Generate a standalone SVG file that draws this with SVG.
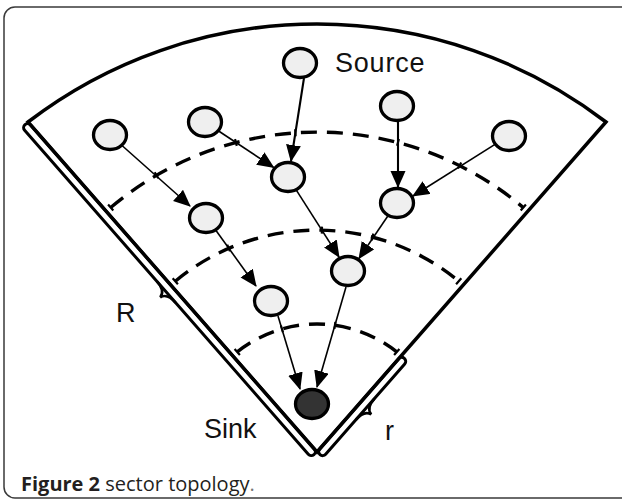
<svg xmlns="http://www.w3.org/2000/svg" width="622" height="501" viewBox="0 0 622 501">
<style>
.node{fill:#efefef;stroke:#000;stroke-width:3.3}
.sink{fill:#333;stroke:#000;stroke-width:3.3}
.edge{stroke:#000;stroke-width:1.6;fill:none;marker-end:url(#ah)}
.thick{stroke-width:2.1}
.arc{stroke:#000;stroke-width:3.4;fill:none;stroke-dasharray:16 10}
.tick{stroke:#000;stroke-width:2.2;fill:none}
.lbl{font-family:"Liberation Sans",Arial,Helvetica,sans-serif;font-size:27px;fill:#111}
.cap{font-family:"Open Sans","Noto Sans",sans-serif;font-size:20px;fill:#231f20}
</style>
<defs>
<marker id="ah" markerUnits="userSpaceOnUse" markerWidth="19" markerHeight="16" refX="16" refY="7.5" orient="auto">
<path d="M0,0 L17,7.5 L0,15 z" fill="#000"/>
</marker>
</defs>
<rect id="frame" x="4" y="7" width="640" height="491" rx="11" fill="#fff" stroke="#3a3a3a" stroke-width="1.5"/>
<g id="sector">
<path d="M28 122 A475 475 0 0 1 606 122 L317 452 Z" fill="none" stroke="#000" stroke-width="3.5" stroke-linejoin="miter"/>
<g transform="translate(28 122) rotate(48.79)">
<rect x="0" y="0" width="438.6" height="8" rx="4" fill="none" stroke="#000" stroke-width="3"/>
<path d="M205 8 C212 8 218 10 219 16 C220 10 226 8 233 8" fill="none" stroke="#000" stroke-width="2.6"/>
</g>
<g transform="translate(317 452) rotate(-48.79)">
<rect x="0" y="0" width="128" height="8" rx="4" fill="none" stroke="#000" stroke-width="3"/>
<path d="M50 8 C57 8 63 10 64 16 C65 10 71 8 78 8" fill="none" stroke="#000" stroke-width="2.6"/>
</g>
</g>
<g id="rings">
<path class="arc" d="M110.7 207.5 A320 320 0 0 1 523.3 207.5"/>
<path class="arc" d="M175.3 281.2 A222 222 0 0 1 458.7 281.2"/>
<path class="arc" d="M237.25 351.9 A128 128 0 0 1 396.75 351.9"/>
<path class="tick" d="M113.3 210.5 L108.1 204.5 M520.7 210.5 L525.9 204.5 M177.9 284.2 L172.7 278.2 M456.1 284.2 L461.3 278.2 M239.9 354.9 L234.6 348.9 M394.1 354.9 L399.4 348.9"/>
<path class="tick" d="M158.3 178.2 L154.7 172.2 M236.8 145.9 L235 139.1 M295.6 136.2 L295.2 129.2 M397.1 145.8 L398.9 139 M458 168.6 L461.2 162.4 M230 251.2 L227.2 244.8 M321.8 233.6 L322 226.6 M371.6 240.4 L373.4 233.6 M282.9 332.3 L280.9 325.5 M334.4 328.8 L335.4 321.8"/>
</g>
<g id="connectors">
<line class="edge thick" x1="304" y1="78" x2="291" y2="161"/>
<line class="edge" x1="218.6" y1="131" x2="273.6" y2="167.4"/>
<line class="edge" x1="122" y1="145.5" x2="190" y2="206"/>
<line class="edge thick" x1="398" y1="121" x2="398" y2="187"/>
<line class="edge" x1="495" y1="144.4" x2="413" y2="196"/>
<line class="edge" x1="296.3" y1="190.1" x2="339" y2="257"/>
<line class="edge" x1="388" y1="215.7" x2="359" y2="258.5"/>
<line class="edge" x1="216" y1="230.5" x2="256" y2="286"/>
<line class="edge" x1="278" y1="316" x2="300" y2="389"/>
<line class="edge" x1="346" y1="287" x2="317" y2="387"/>
</g>
<g id="source"><ellipse class="node" cx="300" cy="63" rx="16.5" ry="14.5"/><text class="lbl" x="335" y="72" letter-spacing="0.8">Source</text></g>
<g id="n_a"><ellipse class="node" cx="110" cy="135" rx="16.5" ry="14.5"/></g>
<g id="n_b"><ellipse class="node" cx="205" cy="122" rx="16.5" ry="14.5"/></g>
<g id="n_c"><ellipse class="node" cx="397" cy="106" rx="16.5" ry="14.5"/></g>
<g id="n_d"><ellipse class="node" cx="509" cy="136" rx="16.5" ry="14.5"/></g>
<g id="n_e"><ellipse class="node" cx="288" cy="177" rx="16.5" ry="14.5"/></g>
<g id="n_f"><ellipse class="node" cx="397" cy="203" rx="16.5" ry="14.5"/></g>
<g id="n_g"><ellipse class="node" cx="206" cy="218" rx="16.5" ry="14.5"/></g>
<g id="n_h"><ellipse class="node" cx="348" cy="271" rx="16.5" ry="14.5"/></g>
<g id="n_i"><ellipse class="node" cx="271" cy="301" rx="16.5" ry="14.5"/></g>
<g id="sink"><ellipse class="sink" cx="312" cy="404" rx="16.5" ry="14.5"/><text class="lbl" x="204" y="438">Sink</text></g>
<g id="labels">
<text class="lbl" x="116" y="322">R</text>
<text class="lbl" x="385" y="440">r</text>
</g>
<text class="cap" x="21" y="491"><tspan font-weight="bold">Figure 2</tspan> sector topology<tspan fill="#777">.</tspan></text>
</svg>
